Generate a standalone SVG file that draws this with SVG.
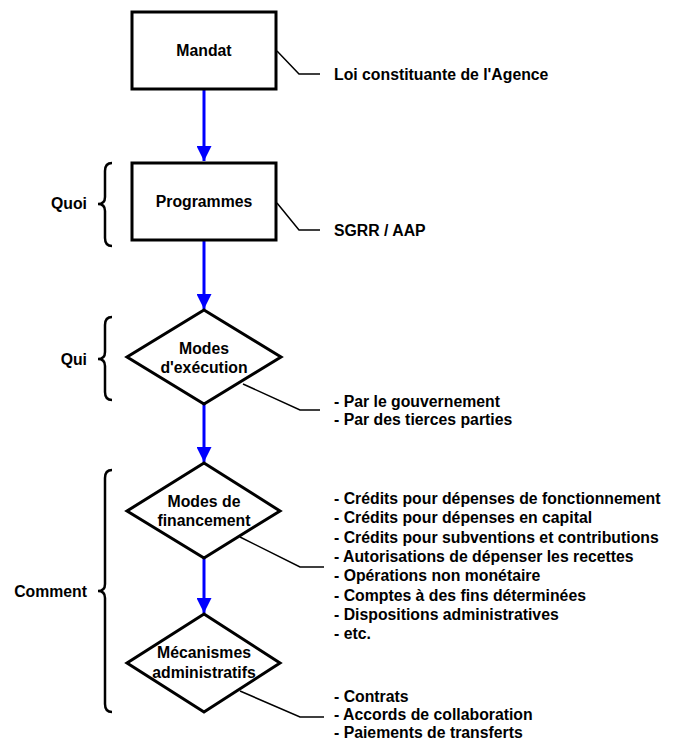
<svg xmlns="http://www.w3.org/2000/svg" width="678" height="742" viewBox="0 0 678 742">
<style>
text{font-family:"Liberation Sans",Arial,sans-serif;font-weight:bold;font-size:15.8px;fill:#000}
.c{text-anchor:middle}
.e{text-anchor:end}
.node{fill:#fff;stroke:#000;stroke-width:3}
.call{fill:none;stroke:#000;stroke-width:1.5}
.brace{fill:none;stroke:#000;stroke-width:2.5}
.flow{stroke:#0000ff;stroke-width:3;fill:none}
</style>
<defs>
<marker id="ah" markerWidth="5" markerHeight="5" refX="5" refY="2.5" orient="auto" markerUnits="strokeWidth">
<path d="M0,0 L5,2.5 L0,5 Z" fill="#0000ff"/>
</marker>
</defs>
<g id="connectors">
<path class="flow" d="M204,89 V161" marker-end="url(#ah)"/>
<path class="flow" d="M204,240 V309" marker-end="url(#ah)"/>
<path class="flow" d="M204,404 V462" marker-end="url(#ah)"/>
<path class="flow" d="M204,558 V613" marker-end="url(#ah)"/>
</g>
<g id="mandat">
<rect class="node" x="132" y="12" width="144" height="77"/>
<text class="c" x="204" y="55.5">Mandat</text>
</g>
<g id="mandat-note">
<path class="call" d="M277,51 L299,74 H320"/>
<text x="334" y="79.5">Loi constituante de l'Agence</text>
</g>
<g id="programmes">
<rect class="node" x="132" y="163" width="144" height="77"/>
<text class="c" x="204" y="207">Programmes</text>
</g>
<g id="programmes-note">
<path class="call" d="M277,203 L299,230 H320"/>
<text x="334" y="235.5">SGRR / AAP</text>
</g>
<g id="modes-execution">
<path class="node" d="M204,310 L281,357 L204,404 L127,357 Z"/>
<text class="c" x="204" y="354">Modes</text>
<text class="c" x="204" y="373">d'exécution</text>
</g>
<g id="modes-execution-note">
<path class="call" d="M243,384 L300,410 H320"/>
<text x="334" y="406.5">- Par le gouvernement</text>
<text x="334" y="425">- Par des tierces parties</text>
</g>
<g id="modes-financement">
<path class="node" d="M204,463 L280,511 L204,558 L127,511 Z"/>
<text class="c" x="204" y="507">Modes de</text>
<text class="c" x="204" y="526">financement</text>
</g>
<g id="modes-financement-note">
<path class="call" d="M240,537 L300,567 H324"/>
<text x="334" y="504">- Crédits pour dépenses de fonctionnement</text>
<text x="334" y="523.3">- Crédits pour dépenses en capital</text>
<text x="334" y="542.6">- Crédits pour subventions et contributions</text>
<text x="334" y="561.9">- Autorisations de dépenser les recettes</text>
<text x="334" y="581.2">- Opérations non monétaire</text>
<text x="334" y="600.5">- Comptes à des fins déterminées</text>
<text x="334" y="619.8">- Dispositions administratives</text>
<text x="334" y="639.1">- etc.</text>
</g>
<g id="mecanismes">
<path class="node" d="M204,614 L280,663 L204,712 L127,663 Z"/>
<text class="c" x="204" y="658">Mécanismes</text>
<text class="c" x="204" y="677.5">administratifs</text>
</g>
<g id="mecanismes-note">
<path class="call" d="M240,691 L300,717 H324"/>
<text x="334" y="701.5">- Contrats</text>
<text x="334" y="720">- Accords de collaboration</text>
<text x="334" y="738">- Paiements de transferts</text>
</g>
<g id="quoi">
<path class="brace" d="M112,163 Q105,163 105,171 V197 Q105,204 98,204 Q105,204 105,211 V238 Q105,246 112,246"/>
<text class="e" x="87" y="208.5">Quoi</text>
</g>
<g id="qui">
<path class="brace" d="M112,317 Q105,317 105,325 V352 Q105,359 98,359 Q105,359 105,366 V392 Q105,400 112,400"/>
<text class="e" x="87" y="365">Qui</text>
</g>
<g id="comment">
<path class="brace" d="M112,470 Q105,470 105,478 V584 Q105,591 98,591 Q105,591 105,598 V704 Q105,712 112,712"/>
<text class="e" x="87" y="596.5">Comment</text>
</g>
</svg>
